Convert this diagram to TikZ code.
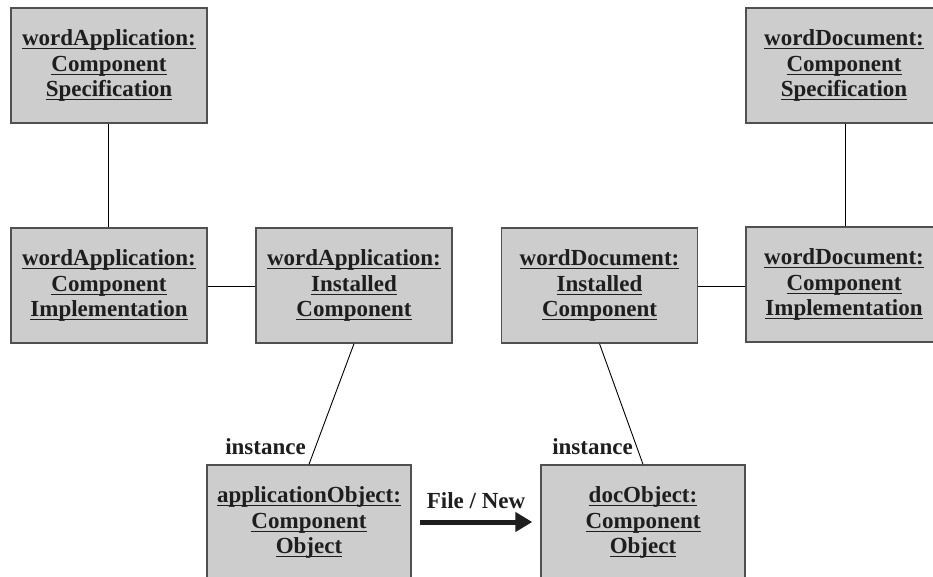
\documentclass[tikz,border=0pt]{standalone}
\usepackage{fontspec}
\setmainfont{Liberation Serif}
\usetikzlibrary{arrows.meta}

\definecolor{boxfill}{HTML}{CDCDCD}
\definecolor{boxline}{HTML}{505050}
\definecolor{ink}{HTML}{1E1E1E}

% underlined word with a rule at a fixed depth below the baseline
\newcommand\ulword[1]{\leavevmode\setbox0\hbox{#1}\rlap{\rule[-3.9pt]{\wd0}{1.3pt}}\box0}

\tikzset{
  umlbox/.style={draw=boxline, fill=boxfill, line width=1.4pt,
    minimum width=196pt, minimum height=115pt, inner sep=0pt,
    align=center, text=ink,
    font=\bfseries\fontsize{23}{25.5}\selectfont},
  link/.style={draw=black, line width=0.9pt},
  lbl/.style={text=ink, inner sep=0pt, font=\bfseries\fontsize{23}{25.5}\selectfont},
  bigarrow/.style={draw=ink, line width=5pt,
    -{Triangle[length=17pt,width=19pt]}}
}

\begin{document}
\begin{tikzpicture}[x=1pt,y=-1pt]
\useasboundingbox (0,0) rectangle (933,577);
\fill[white] (0,0) rectangle (933,577);
\clip (0,0) rectangle (933,577);

% application side
\node[umlbox] (appspec) at (109,65.5)
  {\ulword{wordApplication:}\\\ulword{Component}\\\ulword{Specification}};
\node[umlbox] (appimpl) at (109,285.5)
  {\ulword{wordApplication:}\\\ulword{Component}\\\ulword{Implementation}};
\node[umlbox] (appinst) at (354,285.5)
  {\ulword{wordApplication:}\\\ulword{Installed}\\\ulword{Component}};

% document side
\node[umlbox] (docinst) at (599.5,285.5)
  {\ulword{wordDocument:}\\\ulword{Installed}\\\ulword{Component}};
\node[umlbox] (docimpl) at (844,284.5)
  {\ulword{wordDocument:}\\\ulword{Component}\\\ulword{Implementation}};
\node[umlbox] (docspec) at (844,65.5)
  {\ulword{wordDocument:}\\\ulword{Component}\\\ulword{Specification}};

% runtime objects
\node[umlbox, minimum width=204pt] (appobj) at (309,522.5)
  {\ulword{applicationObject:}\\\ulword{Component}\\\ulword{Object}};
\node[umlbox, minimum width=204pt] (docobj) at (643,522.5)
  {\ulword{docObject:}\\\ulword{Component}\\\ulword{Object}};

% connectors
\draw[link] (appspec.south -| 108.5,0) -- (appimpl.north -| 108.5,0);
\draw[link] (appimpl.east |- 0,286) -- (appinst.west |- 0,286);
\draw[link] (docinst.east |- 0,286) -- (docimpl.west |- 0,286);
\draw[link] (docspec.south -| 845,0) -- (docimpl.north -| 845,0);
\draw[link] (appinst.south) -- (appobj.north);
\draw[link] (docinst.south) -- (docobj.north);

\node[lbl, anchor=base east] (instA) at ([xshift=-3pt, yshift=10pt]appobj.north) {instance};
\node[lbl, anchor=base east] (instB) at ([xshift=-10pt, yshift=10pt]docobj.north) {instance};

% File / New message
\draw[bigarrow, shorten <=8pt, shorten >=8pt] (appobj.east |- 0,522) -- (docobj.west |- 0,522)
  node[lbl, midway, anchor=base, yshift=14pt] (msg) {File / New};
\end{tikzpicture}
\end{document}
